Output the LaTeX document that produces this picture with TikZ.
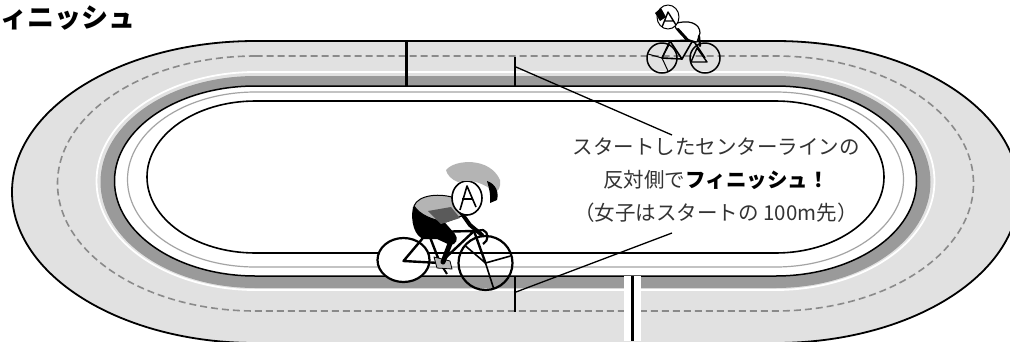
\documentclass[tikz,border=0pt]{standalone}
\usepackage{fontspec}
\setmainfont{Noto Sans CJK JP}

\definecolor{trackgray}{HTML}{E1E1E1}
\definecolor{bandgray}{HTML}{9A9A9A}
\definecolor{dashgray}{HTML}{8A8A8A}
\definecolor{linegray}{HTML}{A4A4A4}
\definecolor{inkgray}{HTML}{333333}
\definecolor{helmetgray}{HTML}{B4B4B4}
\definecolor{jerseydark}{HTML}{5A5A5A}

% One closed lane contour of the oval: half width, top y, bottom y, path options.
% Straights run from x=255.5 to x=775.5; the ends are quarter ellipses.
\newcommand\trackloop[4]{%
  \pgfmathsetmacro\tlL{515.5-260}%
  \pgfmathsetmacro\tlR{515.5+260}%
  \pgfmathsetmacro\tlr{#1-260}%
  \pgfmathsetmacro\tlk{0.5523*\tlr}%
  \pgfmathsetmacro\tlm{(#2+#3)/2}%
  \pgfmathsetmacro\tlyt{0.5523*(\tlm-#2)}%
  \pgfmathsetmacro\tlyb{0.5523*(#3-\tlm)}%
  \path[#4] (\tlL,#2) -- (\tlR,#2)
    .. controls ({\tlR+\tlk},#2) and ({\tlR+\tlr},{\tlm-\tlyt}) .. ({\tlR+\tlr},\tlm)
    .. controls ({\tlR+\tlr},{\tlm+\tlyb}) and ({\tlR+\tlk},#3) .. (\tlR,#3)
    -- (\tlL,#3)
    .. controls ({\tlL-\tlk},#3) and ({\tlL-\tlr},{\tlm+\tlyb}) .. ({\tlL-\tlr},\tlm)
    .. controls ({\tlL-\tlr},{\tlm-\tlyt}) and ({\tlL-\tlk},#2) .. (\tlL,#2) -- cycle;%
}

\begin{document}
\begin{tikzpicture}[x=1pt,y=-1pt,line join=round,
  leader/.style={draw=black,line width=1.3},
  notetext/.style={align=center,text=inkgray,inner sep=0,
    font=\fontsize{20.5}{33}\selectfont},
  titletext/.style={anchor=west,inner sep=0,font=\bfseries\fontsize{27}{30}\selectfont},
  wheel/.style={draw=black,line width=2.2},
  frame/.style={draw=black,line width=2.4,line cap=round}]

\useasboundingbox (0,0) rectangle (1010,341);
\clip (0,0) rectangle (1010,341);

% ---- track ----
\trackloop{503.5}{41}{343}{fill=trackgray,draw=black,line width=1.8}
\trackloop{458}{56}{311}{draw=dashgray,line width=1.6,dash pattern=on 7 off 4}
\trackloop{419}{72}{290}{draw=white,line width=1.8}
\trackloop{415}{76}{288}{fill=bandgray}
\trackloop{401}{86}{276}{fill=white,draw=black,line width=1.5}
\trackloop{388}{92}{267}{draw=linegray,line width=1.2}
\trackloop{368.5}{101}{253}{draw=black,line width=1.6}

% ---- start / centre lines ----
\draw[line width=3] (406,41) -- (406,86);
\draw[line width=2.6] (515,57) -- (515,86);
\draw[line width=2.6] (515,276) -- (515,312);
\fill[white] (624,276) rectangle (641,341);
\draw[line width=3] (632.5,276) -- (632.5,341);

% ---- title ----
\node[titletext] (title) at (0,18.5) {ィニッシュ};

% ---- note with leaders ----
\node[notetext] (note) at (716,180)
  {スタートしたセンターラインの\\
   反対側で\textbf{\textcolor{black}{フィニッシュ！}}\\
   （女子はスタートの 100m先）};
\coordinate (topmark) at (516,67);
\coordinate (botmark) at (516,292);
\coordinate (notetop) at (672,135);
\coordinate (notebot) at (672,233);
\draw[leader] (topmark) -- (notetop);
\draw[leader] (botmark) -- (notebot);

% ---- large rider ----
% wheels
\draw[wheel,fill=white] (403.5,260) ellipse [x radius=26,y radius=22];
\draw[wheel] (485.5,263) circle [radius=27];
\draw[line width=1.6] (485.5,263) -- ++(-20,-17) (485.5,263) -- ++(8,25) (485.5,263) -- ++(25,-7);
% frame
\draw[frame] (403.5,261) -- (428,232) -- (440,263) -- cycle;
\draw[frame] (428,232) -- (474,231) -- (440,263);
\draw[frame] (474,231) -- (485.5,263);
\draw[line width=2.2] (474,231) -- (483,230) .. controls (489,232) and (489,241) .. (483,244);
\draw[line width=2] (440,263) -- (447,274);
% far shoe
\fill[gray!55,draw=black,line width=0.8] (434,257) -- (450,261) -- (452,269) -- (437,268) -- cycle;
% shorts and thigh
\fill (413,207) .. controls (418,200) and (430,204) .. (440,217) -- (455,234)
  .. controls (459,239) and (456,245) .. (450,245) -- (437,239) -- (424,239)
  .. controls (415,237) and (410,222) .. cycle;
\draw[line width=5,line cap=round] (451,241) -- (443,262);
% torso
\fill[helmetgray,draw=black,line width=1] (414,206) .. controls (418,195) and (440,192) .. (458,199)
  -- (467,214) -- (446,222) .. controls (432,220) and (420,215) .. cycle;
\fill[jerseydark] (428,211) -- (451,207) -- (460,218) -- (441,224) -- cycle;
% arm
\draw[line width=4,line cap=round] (460,211) -- (470,225) -- (482,235);
% head
\draw[fill=white,line width=1.6] (467,198) ellipse [x radius=15,y radius=17];
\draw[line width=1.6] (460,210) -- (467,186) -- (476,207) (462,199) -- (473,199);
\fill[helmetgray] (446,170) .. controls (455,159) and (490,157) .. (500,180)
  .. controls (501,188) and (498,192) .. (494,192) .. controls (486,184) and (470,178) .. (458,182)
  .. controls (452,180) and (447,175) .. cycle;
\fill[black] (487,181) .. controls (496,184) and (499,192) .. (497,200) -- (490,203)
  .. controls (491,195) and (489,188) .. cycle;

% ---- small rider ----
\draw[line width=1.5] (662,58) circle [radius=15];
\draw[line width=1.5] (705,58) circle [radius=15];
\draw[line width=1] (662,58) -- ++(-14,-4) (662,58) -- ++(7,-13) (662,58) -- ++(6,13);
\draw[line width=1.6,line cap=round] (662,58) -- (670,41) -- (682,59) -- cycle;
\draw[line width=1.6,line cap=round] (670,41) -- (693,40) -- (682,59);
\draw[line width=1.6] (693,40) -- (705,58);
\draw[line width=1.4] (691,62) -- (697,48) -- (707,62) -- cycle;
% body
\draw[fill=white,line width=1.2] (674,24) .. controls (688,19) and (700,23) .. (700,33)
  -- (697,42) -- (686,40) .. controls (682,34) and (676,31) .. cycle;
\draw[line width=2.2,line cap=round] (678,29) -- (688,40) -- (694,42);
\draw[line width=2.2,line cap=round] (699,36) -- (700,46);
% head
\draw[fill=white,line width=1] (668,17) ellipse [x radius=11,y radius=12];
\fill (655,13) -- (661,8) -- (666,17) -- (660,21) -- cycle;
\draw[line width=1.4] (662,27) -- (668,12) -- (676,25) (664,21) -- (673,21);
\end{tikzpicture}
\end{document}
